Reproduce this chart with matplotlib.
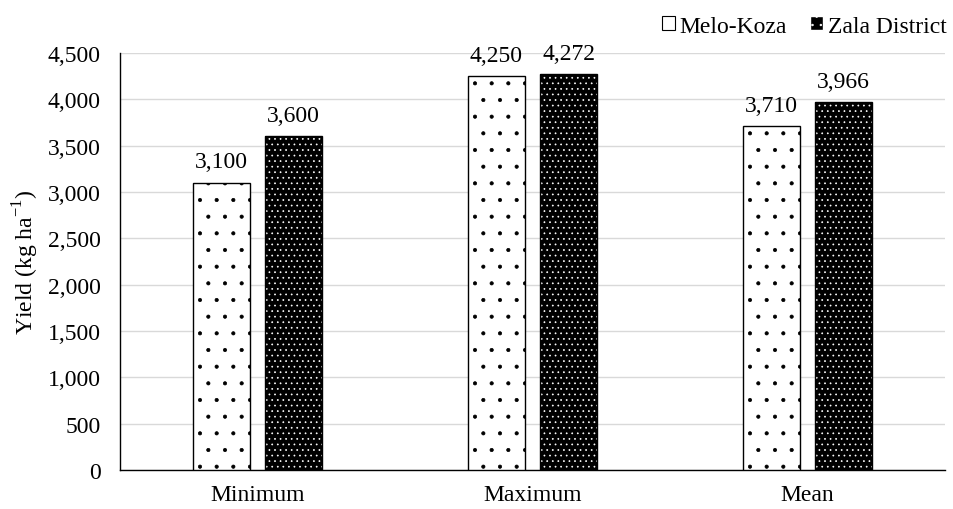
import matplotlib
matplotlib.use("Agg")
import matplotlib.pyplot as plt
import numpy as np
from matplotlib.patches import Patch

plt.rcParams['font.family'] = ['Liberation Serif', 'DejaVu Serif']
plt.rcParams['mathtext.fontset'] = 'custom'
plt.rcParams['mathtext.rm'] = 'Liberation Serif'
plt.rcParams['hatch.linewidth'] = 0.5

categories = ["Minimum", "Maximum", "Mean"]
series_names = ["Melo-Koza", "Zala District"]
melo = [3100, 4250, 3710]
zala = [3600, 4272, 3966]
yticks = [0, 500, 1000, 1500, 2000, 2500, 3000, 3500, 4000, 4500]

FS = 17

fig = plt.figure(figsize=(9.54, 5.1), dpi=100)
ax = fig.add_axes([0.1258, 0.0765, 0.8648, 0.8176])

x = np.arange(len(categories))
w = 0.207
off = 0.131

# Melo-Koza: white with small black dots
ax.bar(x - off, melo, w, color='white', edgecolor='black', hatch='.', linewidth=0, zorder=3)
ax.bar(x - off, melo, w, fill=False, edgecolor='black', linewidth=1.0, zorder=4)
# Zala: black with white dots
ax.bar(x + off, zala, w, color='black', edgecolor='white', hatch='...', linewidth=0, zorder=3)
ax.bar(x + off, zala, w, fill=False, edgecolor='black', linewidth=1.0, zorder=4)

for xs, vals in ((x - off, melo), (x + off, zala)):
    for xi, v in zip(xs, vals):
        ax.annotate(f"{v:,}", (xi, v), xytext=(0, 11), textcoords='offset points',
                    ha='center', va='baseline', fontsize=FS)

ax.set_xlim(-0.5, 2.5)
ax.set_ylim(0, 4500)
ax.set_yticks(yticks)
ax.set_yticklabels([f"{t:,}" for t in yticks], fontsize=FS)
ax.set_xticks(x)
ax.set_xticklabels(categories, fontsize=FS)
ax.tick_params(axis='y', length=0, pad=14)
ax.tick_params(axis='x', length=0, pad=10)
ax.yaxis.grid(True, color='#d9d9d9', linewidth=1.0, zorder=0)
ax.set_axisbelow(True)
for s in ['top', 'right']:
    ax.spines[s].set_visible(False)
for s in ['left', 'bottom']:
    ax.spines[s].set_color('black')
    ax.spines[s].set_linewidth(1.0)
ax.set_ylabel("Yield (kg ha$^{-1}$)", fontsize=FS, labelpad=5)

handles = [Patch(facecolor='white', edgecolor='black', linewidth=0.8),
           Patch(facecolor='black', edgecolor='white', hatch='..')]
leg = fig.legend(handles, series_names, loc='center right', bbox_to_anchor=(1.0, 0.947),
                 ncol=2, frameon=False, fontsize=FS, handlelength=0.55, handleheight=0.55,
                 handletextpad=0.2, columnspacing=1.0, borderpad=0.1, borderaxespad=0.2)

fig.savefig("out.png", dpi=100)
